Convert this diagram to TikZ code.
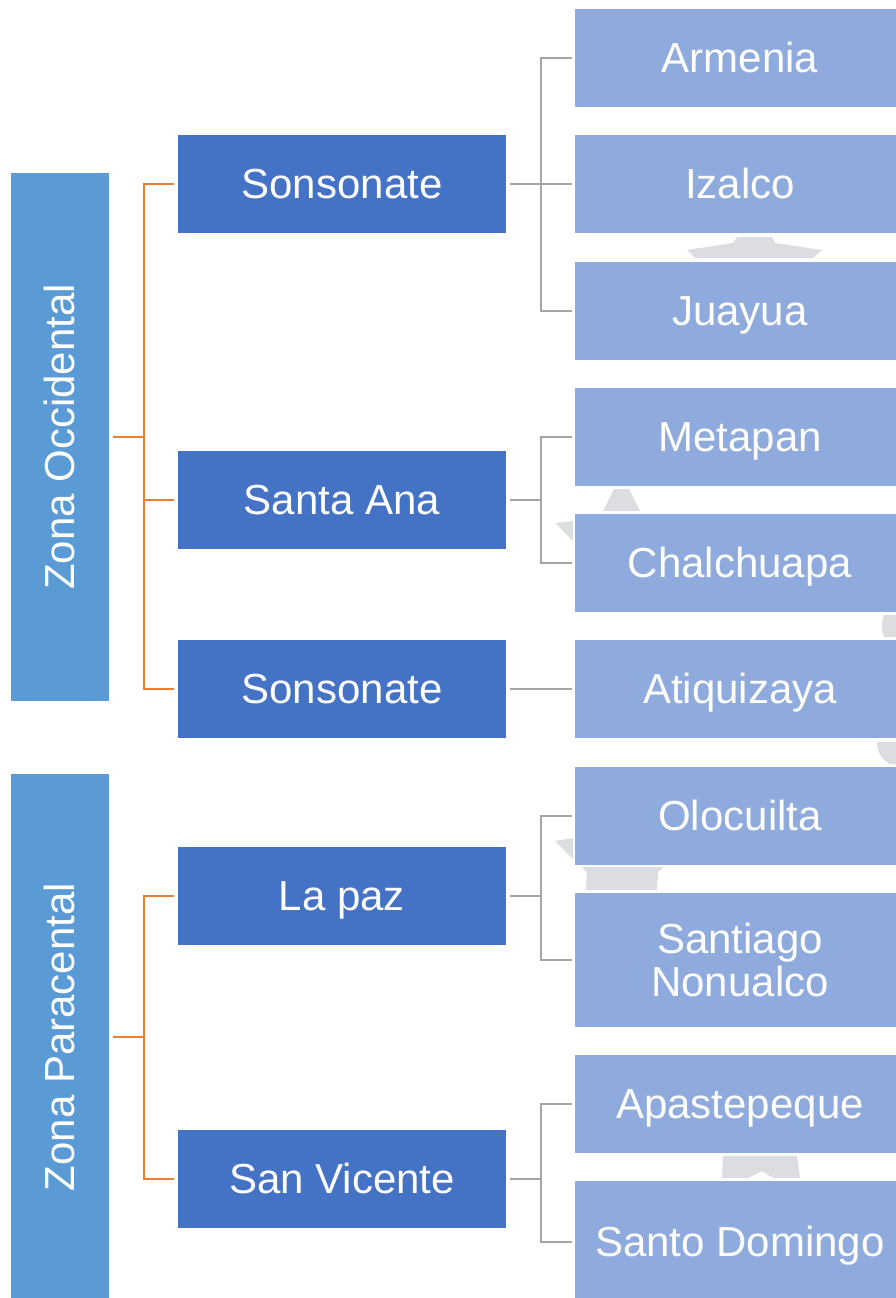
\documentclass[tikz,border=0pt]{standalone}
\usepackage{fontspec}
\setmainfont{Liberation Sans}
\usepackage{graphicx}

\definecolor{zoneblue}{RGB}{91,155,213}
\definecolor{townblue}{RGB}{68,114,196}
\definecolor{cityblue}{RGB}{143,170,220}
\definecolor{lineorange}{RGB}{237,125,49}
\definecolor{linegrey}{RGB}{165,165,165}
\definecolor{ghostgrey}{RGB}{220,221,225}

\newcommand{\boxfont}{\fontsize{42}{43}\selectfont}

\tikzset{every picture/.style={line width=2pt}}

\begin{document}
\begin{tikzpicture}[x=1pt,y=1pt,yscale=-1,
	zonebox/.style={fill=zoneblue, inner sep=0pt, minimum width=98pt, text=white, font=\boxfont},
	townbox/.style={fill=townblue, inner sep=0pt, minimum width=328pt, minimum height=98pt, text=white, font=\boxfont, text height=38pt, text depth=9pt},
	citybox/.style={fill=cityblue, inner sep=0pt, minimum width=330pt, minimum height=98pt, text=white, font=\boxfont, text height=38pt, text depth=9pt},
	orangeline/.style={draw=lineorange, line width=2pt},
	greyline/.style={draw=linegrey, line width=2pt},
	ghost/.style={fill=ghostgrey}]
	\useasboundingbox (0,0) rectangle (896,1298);
	\clip (0,0) rectangle (896,1298);

	% faint grey pieces behind the boxes
	\fill[ghost] (687,250) -- (733,243) -- (737,237) -- (772,237) -- (775,243) -- (822,250) -- (813,258) -- (695,258) -- cycle;
	\fill[ghost] (603,511) -- (614,489) -- (629,489) -- (640,511) -- cycle;
	\fill[ghost] (555,523) -- (573,521) -- (573,541) -- cycle;
	\fill[ghost] (884,615) -- (896,615) -- (896,637) -- (884,637) .. controls (881,630) and (881,622) .. (884,615) -- cycle;
	\fill[ghost] (877,742) -- (896,742) -- (896,764) -- (890,764) .. controls (882,760) and (877,752) .. (877,742) -- cycle;
	\fill[ghost] (555,841) -- (573,838) -- (573,859) -- cycle;
	\fill[ghost] (582,867) -- (663,867) -- (658,873) -- (657,890) -- (586,890) -- (587,873) -- cycle;
	\fill[ghost] (723,1156) -- (797,1156) -- (800,1178) -- (773,1178) -- (762,1171) -- (748,1178) -- (722,1178) -- cycle;

	% Zones
	\node[zonebox, minimum height=528pt] (occ) at (60,437) {\rotatebox{90}{\rule[-9pt]{0pt}{47pt}Zona Occidental}};
	\node[zonebox, minimum height=526pt] (para) at (60,1037) {\rotatebox{90}{\rule[-9pt]{0pt}{47pt}Zona Paracental}};

	% Departments
	\node[townbox] (son1) at (342,184) {Sonsonate};
	\node[townbox] (sana) at (342,500) {Santa Ana};
	\node[townbox] (son2) at (342,689) {Sonsonate};
	\node[townbox] (lapaz) at (342,896) {La paz};
	\node[townbox] (svic) at (342,1179) {San Vicente};

	% Towns
	\node[citybox] (arm) at (740,58) {Armenia};
	\node[citybox] (iza) at (740,184) {Izalco};
	\node[citybox] (jua) at (740,311) {Juayua};
	\node[citybox] (met) at (740,437) {Metapan};
	\node[citybox] (cha) at (740,563) {Chalchuapa};
	\node[citybox] (ati) at (740,689) {Atiquizaya};
	\node[citybox] (olo) at (740,816) {Olocuilta};
	\node[citybox, minimum height=134pt, text height=, text depth=, align=center] (snon) at (740,960) {Santiago\\Nonualco};
	\node[citybox] (apa) at (740,1104) {Apastepeque};
	\node[citybox, minimum height=122pt] (sdom) at (740,1242) {Santo Domingo};

	% Orange connectors
	\draw[orangeline, shorten <=3pt] (occ.east) -- ++(34,0) coordinate (occj);
	\draw[orangeline, shorten >=3pt] (occj) |- (son1.west);
	\draw[orangeline, shorten >=3pt] (occj) |- (sana.west);
	\draw[orangeline, shorten >=3pt] (occj) |- (son2.west);
	\draw[orangeline, shorten <=3pt] (para.east) -- ++(34,0) coordinate (paraj);
	\draw[orangeline, shorten >=3pt] (paraj) |- (lapaz.west);
	\draw[orangeline, shorten >=3pt] (paraj) |- (svic.west);

	% Grey connectors
	\draw[greyline, shorten <=3pt] (son1.east) -- ++(34,0) coordinate (son1j);
	\foreach \t in {arm,iza,jua} \draw[greyline, shorten >=2pt] (son1j) |- (\t.west);
	\draw[greyline, shorten <=3pt] (sana.east) -- ++(34,0) coordinate (sanaj);
	\foreach \t in {met,cha} \draw[greyline, shorten >=2pt] (sanaj) |- (\t.west);
	\draw[greyline, shorten <=3pt, shorten >=2pt] (son2.east) -- (ati.west);
	\draw[greyline, shorten <=3pt] (lapaz.east) -- ++(34,0) coordinate (lapazj);
	\foreach \t in {olo,snon} \draw[greyline, shorten >=2pt] (lapazj) |- (\t.west);
	\draw[greyline, shorten <=3pt] (svic.east) -- ++(34,0) coordinate (svicj);
	\foreach \t in {apa,sdom} \draw[greyline, shorten >=2pt] (svicj) |- (\t.west);
\end{tikzpicture}
\end{document}
